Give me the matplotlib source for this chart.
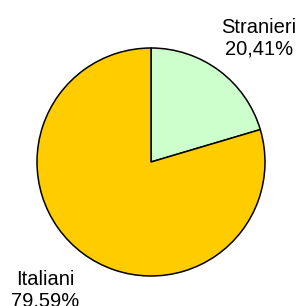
import matplotlib
matplotlib.use("Agg")
import matplotlib.pyplot as plt

# data
categories = ["Stranieri", "Italiani"]
values = [20.41, 79.59]
colors = ["#CCFFCC", "#FFCC00"]

labels = ["%s\n%s%%" % (c, ("%.2f" % v).replace(".", ",")) for c, v in zip(categories, values)]

plt.rcParams['font.family'] = ['Liberation Sans', 'DejaVu Sans']

fig = plt.figure(figsize=(2.99, 3.06), dpi=100)
ax = fig.add_axes([0, 0, 1, 1])
ax.set_xlim(0, 299)
ax.set_ylim(0, 306)
ax.set_aspect('equal')
ax.axis('off')

wedges, texts = ax.pie(values, labels=labels, colors=colors, startangle=90, counterclock=False,
                       center=(151, 144), radius=114, labeldistance=1.45,
                       wedgeprops=dict(edgecolor='black', linewidth=1.1),
                       textprops=dict(fontsize=14.5, ha='center', va='center', color='black',
                                      linespacing=1.15))
# label spots as in the original
texts[0].set_position((259, 268))
texts[1].set_position((45, 16))
ax.set_xlim(0, 299)
ax.set_ylim(0, 306)

fig.savefig("out.png", dpi=100)
